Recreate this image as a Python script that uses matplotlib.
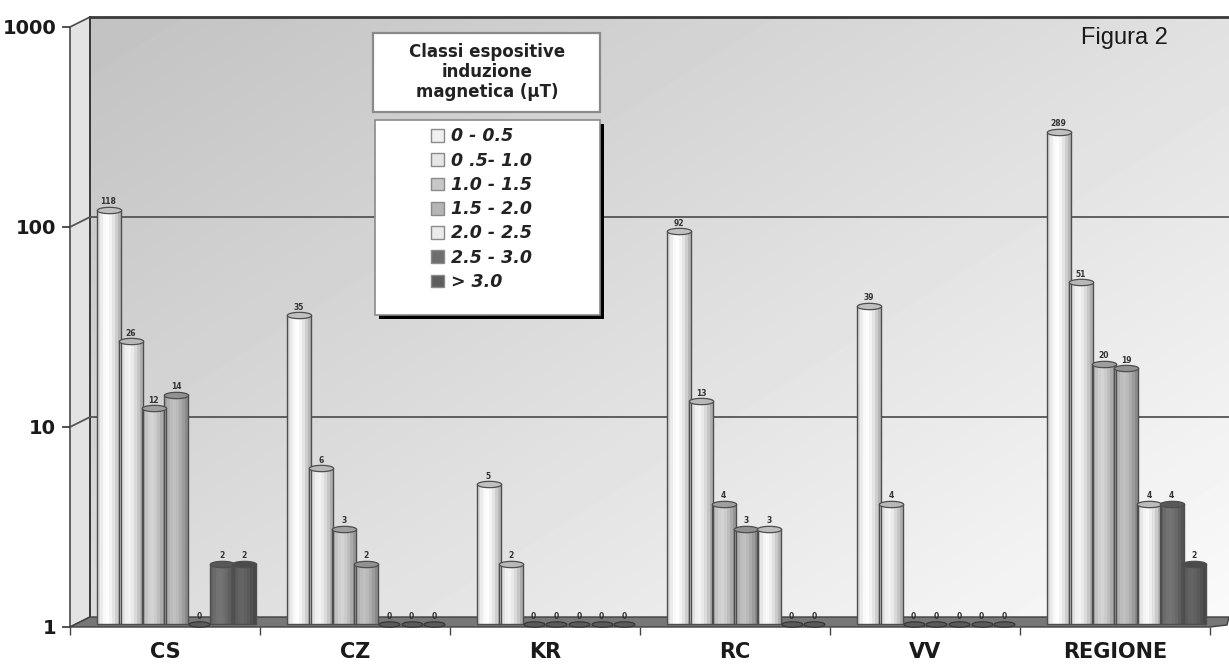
import numpy as np
import matplotlib
matplotlib.use('Agg')
import matplotlib.pyplot as plt
from matplotlib.patches import Patch, Polygon, Rectangle
from matplotlib.path import Path
from matplotlib import transforms

# data (log scale, values per province)
provinces = ['CS', 'CZ', 'KR', 'RC', 'VV', 'REGIONE']
classes = ['0 - 0.5', '0 .5- 1.0', '1.0 - 1.5', '1.5 - 2.0',
           '2.0 - 2.5', '2.5 - 3.0', '> 3.0']
c_00_05 = [118, 35, 5, 92, 39, 289]
c_05_10 = [26, 6, 2, 13, 4, 51]
c_10_15 = [12, 3, 0, 4, 0, 20]
c_15_20 = [14, 2, 0, 3, 0, 19]
c_20_25 = [0, 0, 0, 3, 0, 4]
c_25_30 = [2, 0, 0, 0, 0, 4]
c_30_up = [2, 0, 0, 0, 0, 2]
series = [c_00_05, c_05_10, c_10_15, c_15_20, c_20_25, c_25_30, c_30_up]
greys = [0.94, 0.90, 0.78, 0.71, 0.92, 0.43, 0.37]

W, H = 1229, 667
fig = plt.figure(figsize=(W / 100, H / 100), dpi=100)
fig.patch.set_facecolor('white')

# background layer in picture pixels (y down)
bg = fig.add_axes([0, 0, 1, 1], zorder=0)
bg.set_xlim(0, W)
bg.set_ylim(H, 0)
bg.axis('off')

# main plot, front plane of the 3d box
x0, y1, y1000 = 70, 627, 27
ax = fig.add_axes([x0 / W, (H - y1) / H, (W - x0) / W, (y1 - y1000) / H], zorder=1)
ax.set_facecolor('none')
ax.set_yscale('log')
ax.set_ylim(1, 1000)
ngrp = (W - x0) / 190.0
ax.set_xlim(0, ngrp)
for s in ax.spines.values():
    s.set_visible(False)

dx, dy = 20, 10  # depth of the box in pixels


def to_px(x, y):
    disp = ax.transData.transform((x, y))
    return bg.transData.inverted().transform(disp)


# back wall with a soft gradient
_, yb = to_px(0, 1)
_, yt = to_px(0, 1000)
yy, xx = np.mgrid[0:1:200j, 0:1:300j]
grad = 0.76 + 0.12 * xx + 0.10 * yy
bg.imshow(grad, cmap='gray', vmin=0, vmax=1, extent=(x0 + dx, W, yb - dy, yt - dy),
          origin='upper', aspect='auto', zorder=0, interpolation='bilinear')
# left side wall
bg.add_patch(Polygon([(x0, yb), (x0, yt), (x0 + dx, yt - dy), (x0 + dx, yb - dy)],
                     closed=True, fc='#e3e3e3', ec='#4a4a4a', lw=1.2, zorder=1))
bg.plot([x0 + dx, W], [yt - dy, yt - dy], color='#3a3a3a', lw=2, zorder=2)
bg.plot([x0 + dx, x0 + dx], [yt - dy, yb - dy], color='#3a3a3a', lw=1.4, zorder=2)
# grid lines on side and back wall
for v in [10, 100]:
    _, yv = to_px(0, v)
    bg.plot([x0, x0 + dx, W], [yv, yv - dy, yv - dy], color='#555555', lw=1.3, zorder=2)
# floor
x_end, _ = to_px(ngrp - 19 / 190, 1)
bg.add_patch(Polygon([(x0, yb), (x0 + dx, yb - dy), (W, yb - dy), (W - 2, yb - 2),
                      (x_end, yb)], closed=True, fc='#777777', ec='#404040',
                     lw=1.0, zorder=2))

# legend title box and legend frame
bg.add_patch(Rectangle((373, 33), 227, 79, fc='white', ec='#8a8a8a', lw=1.6, zorder=5))
bg.text(487, 72, 'Classi espositive\ninduzione\nmagnetica (µT)', ha='center',
        va='center', fontsize=12, fontweight='bold', color='#222222',
        linespacing=1.15, zorder=6)
bg.add_patch(Rectangle((379, 124), 225, 195, fc='black', ec='none', zorder=5))
bg.add_patch(Rectangle((375, 120), 225, 195, fc='white', ec='#8a8a8a', lw=1.2, zorder=5))

bg.text(1124, 38, 'Figura 2', ha='center', va='center', fontsize=17,
        family='Liberation Sans', color='#1a1a1a', zorder=6)

# cylinder bars
off0, pitch, bw = 38.5 / 190, 22.6 / 190, 24.0 / 190
shade = np.array([0.90, 0.98, 1.04, 1.06, 1.02, 0.95, 0.86, 0.76])
nstrip = len(shade)
lift = transforms.offset_copy(ax.transData, fig=fig, x=0, y=3, units='dots')
t = np.linspace(0, 2 * np.pi, 60)
cap = Path(np.column_stack([np.cos(t), 0.26 * np.sin(t)]), closed=True)

for j, vals in enumerate(series):
    g = greys[j]
    xs = np.arange(len(provinces)) + off0 + j * pitch
    vals = np.array(vals, dtype=float)
    ok = vals > 0
    for s, f in enumerate(shade):
        c = np.clip(g * f, 0, 1)
        ax.bar(xs[ok] - bw / 2 + s * bw / nstrip, vals[ok] - 1, bottom=1,
               width=bw / nstrip + 0.002, align='edge', color=(c, c, c),
               lw=0, transform=lift, zorder=3)
    ax.bar(xs[ok], vals[ok] - 1, bottom=1, width=bw, fill=False,
           edgecolor='#4e4e4e', lw=1.0, transform=lift, zorder=4)
    ctop = np.clip(g * 0.8, 0, 1)
    ax.plot(xs[ok], vals[ok], ls='none', marker=cap, ms=17.5,
            mfc=(ctop, ctop, ctop), mec='#4e4e4e', mew=0.9, transform=lift, zorder=5)
    ax.plot(xs[~ok], np.ones((~ok).sum()), ls='none', marker=cap, ms=15,
            mfc='#5a5a5a', mec='#333333', mew=0.8, transform=lift, zorder=5)
    for x, v in zip(xs, vals):
        ax.annotate('%d' % v, (x, max(v, 1)), xycoords=lift, xytext=(0, 2.5),
                    textcoords='offset points', ha='center', va='bottom',
                    fontsize=5.5, fontweight='bold', color='#333333', zorder=6)

# axes ticks and labels
ax.set_yticks([1, 10, 100, 1000])
ax.set_yticklabels(['1', '10', '100', '1000'])
ax.yaxis.set_minor_locator(matplotlib.ticker.NullLocator())
ax.tick_params(axis='y', length=6, width=1.2, color='#333333', pad=4,
               labelsize=14, labelcolor='#1a1a1a')
for lab in ax.get_yticklabels():
    lab.set_fontweight('bold')
ax.set_xticks(np.arange(len(provinces)) + 0.5)
ax.set_xticklabels(provinces, fontsize=15, fontweight='bold', color='#1a1a1a')
ax.set_xticks(np.arange(len(provinces) + 1), minor=True)
ax.tick_params(axis='x', which='major', length=0, pad=11)
ax.tick_params(axis='x', which='minor', length=6, width=1, color='#444444')

handles = [Patch(fc=(g, g, g), ec='#8a8a8a', lw=1) for g in greys]
ax.legend(handles, classes, loc='upper left', bbox_to_anchor=(428 / W, 1 - 124 / H),
          bbox_transform=fig.transFigure, frameon=False, borderaxespad=0,
          borderpad=0.2, handlelength=0.75, handleheight=0.75, handletextpad=0.35,
          labelspacing=0.36, prop={'size': 12.5, 'weight': 'bold', 'style': 'italic'},
          labelcolor='#222222')

fig.savefig('out.png', dpi=100)
